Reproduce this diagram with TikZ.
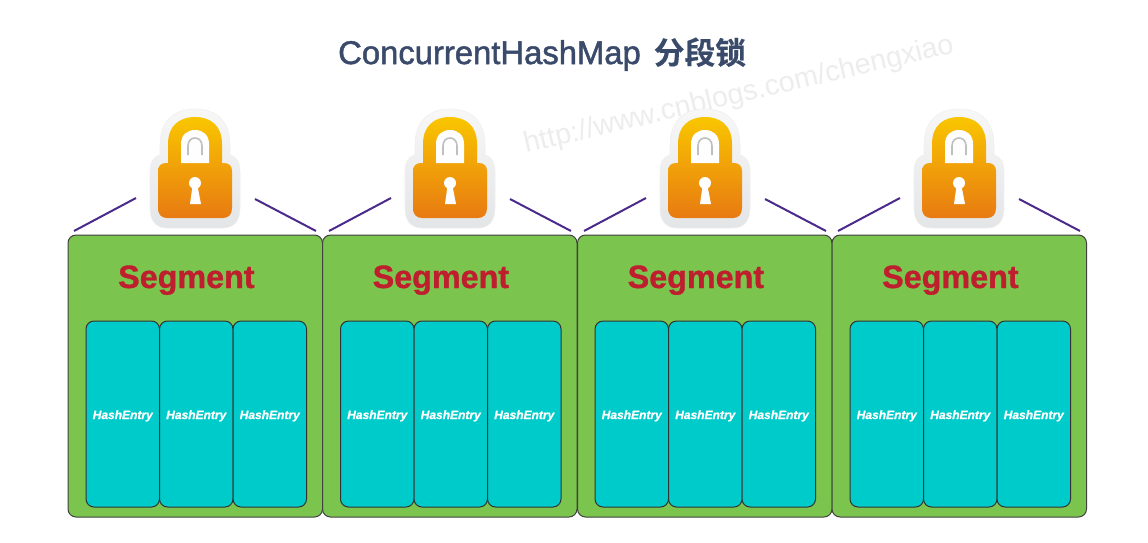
\documentclass[tikz,border=0pt]{standalone}
\usepackage{fontspec}
\setmainfont{Liberation Sans}
\newfontfamily\cjk[FakeBold=0.4]{Noto Sans CJK SC Bold}
\newfontfamily\titlefont[FakeBold=1.5]{Liberation Sans}
\newfontfamily\segfont[FakeBold=1]{Liberation Sans Bold}
\newfontfamily\entryfont[FakeBold=1]{Liberation Sans Bold Italic}
\definecolor{seggreen}{HTML}{7BC44E}
\definecolor{entrycyan}{HTML}{00CBCB}
\definecolor{segred}{HTML}{BE1E2D}
\definecolor{titleblue}{HTML}{3A4A6B}
\definecolor{linkviolet}{HTML}{4B2A8C}
\definecolor{lockedge}{HTML}{E4E5E7}
\definecolor{locktop}{HTML}{F9C600}
\definecolor{lockbot}{HTML}{E87A12}
\tikzset{
  segbox/.style={draw=black!75,line width=1pt,fill=seggreen,rounded corners=8pt,minimum width=254.5pt,minimum height=282pt,inner sep=0pt,outer sep=0pt},
  entrybox/.style={draw=black!80,line width=1pt,fill=entrycyan,rounded corners=8pt,minimum width=73.5pt,minimum height=186pt,inner sep=0pt,outer sep=0pt,text=white,text height=10pt,text depth=0pt,font=\fontsize{12}{14}\entryfont},
  seglabel/.style={text=segred,font=\fontsize{32.3}{34}\segfont,inner sep=0pt},
  linkline/.style={draw=linkviolet,line width=2pt},
  lockpic/.pic={
    % white-grey backing
    \path[draw=black!6,line width=0.6pt,top color=black!3,bottom color=lockedge]
      (-35,155) -- (-35,145) .. controls (-35,122) and (-22,109) .. (0,109)
      .. controls (22,109) and (35,122) .. (35,145) -- (35,155)
      .. controls (42,157) and (45,162) .. (45,172)
      -- (45,208) .. controls (45,222) and (38,228) .. (28,228)
      -- (-28,228) .. controls (-38,228) and (-45,222) .. (-45,208)
      -- (-45,172) .. controls (-45,162) and (-42,157) .. (-35,155) -- cycle;
    % gold body and shackle
    \path[top color=locktop,bottom color=lockbot]
      (-27,163) -- (-27,144) .. controls (-27,126) and (-16,117) .. (0,117)
      .. controls (16,117) and (27,126) .. (27,144) -- (27,163)
      -- (29,163) .. controls (34,163) and (37,166) .. (37,171)
      -- (37,208) .. controls (37,214) and (34,218) .. (28,218)
      -- (-28,218) .. controls (-34,218) and (-37,214) .. (-37,208)
      -- (-37,171) .. controls (-37,166) and (-34,163) .. (-29,163) -- cycle;
    % shackle opening
    \fill[white!95!lockedge]
      (-14,163) -- (-14,144) .. controls (-14,135) and (-8,130) .. (0,130)
      .. controls (8,130) and (14,135) .. (14,144) -- (14,163) -- cycle;
    \draw[black!25,line width=1.6pt,fill=white!96!lockedge]
      (-7,155) -- (-7,146) .. controls (-7,141) and (-4,138) .. (0,138)
      .. controls (4,138) and (7,141) .. (7,146) -- (7,155);
    % keyhole
    \fill[white!96!lockedge] (0,183) circle[radius=6];
    \fill[white!96!lockedge] (-2.5,186) -- (2.5,186) -- (6,204) -- (-5,204) -- cycle;
  }
}
\begin{document}
\begin{tikzpicture}[x=1pt,y=-1pt]
\useasboundingbox[fill=white] (0,0) rectangle (1148,542);
\node[text=titleblue,font=\fontsize{32.8}{36}\titlefont,anchor=base west,inner sep=0pt] (title) at (338,64) {ConcurrentHashMap\hspace{13pt}{\fontsize{30.7}{36}\cjk 分段锁}};
\node[text=black!7,font=\fontsize{28.7}{32}\selectfont,rotate=13.2,anchor=base west,inner sep=0pt] (mark) at (526,153) {http://www.cnblogs.com/chengxiao};
\foreach \i/\sx/\lx/\ox in {1/68/195/18,2/322.5/450/18,3/577.5/705/17.5,4/832/959/18}{
  \node[segbox,anchor=north west] (seg\i) at (\sx,235) {};
  \pic at (\lx,0) {lockpic};
  \node[seglabel,anchor=base west] (seglab\i) at (\sx+50,288) {Segment};
  \foreach \j/\ex in {1/0,2/73.5,3/147}{
    \node[entrybox,anchor=north west] (entry\i\j) at (\sx+\ox+\ex,321) {HashEntry};
  }
  \coordinate (la\i) at (\lx-121,231);
  \coordinate (lb\i) at (\lx-59,198);
  \coordinate (ra\i) at (\lx+60,199);
  \coordinate (rb\i) at (\lx+121,231);
  \draw[linkline] (la\i) -- (lb\i);
  \draw[linkline] (ra\i) -- (rb\i);
}
\end{tikzpicture}
\end{document}
